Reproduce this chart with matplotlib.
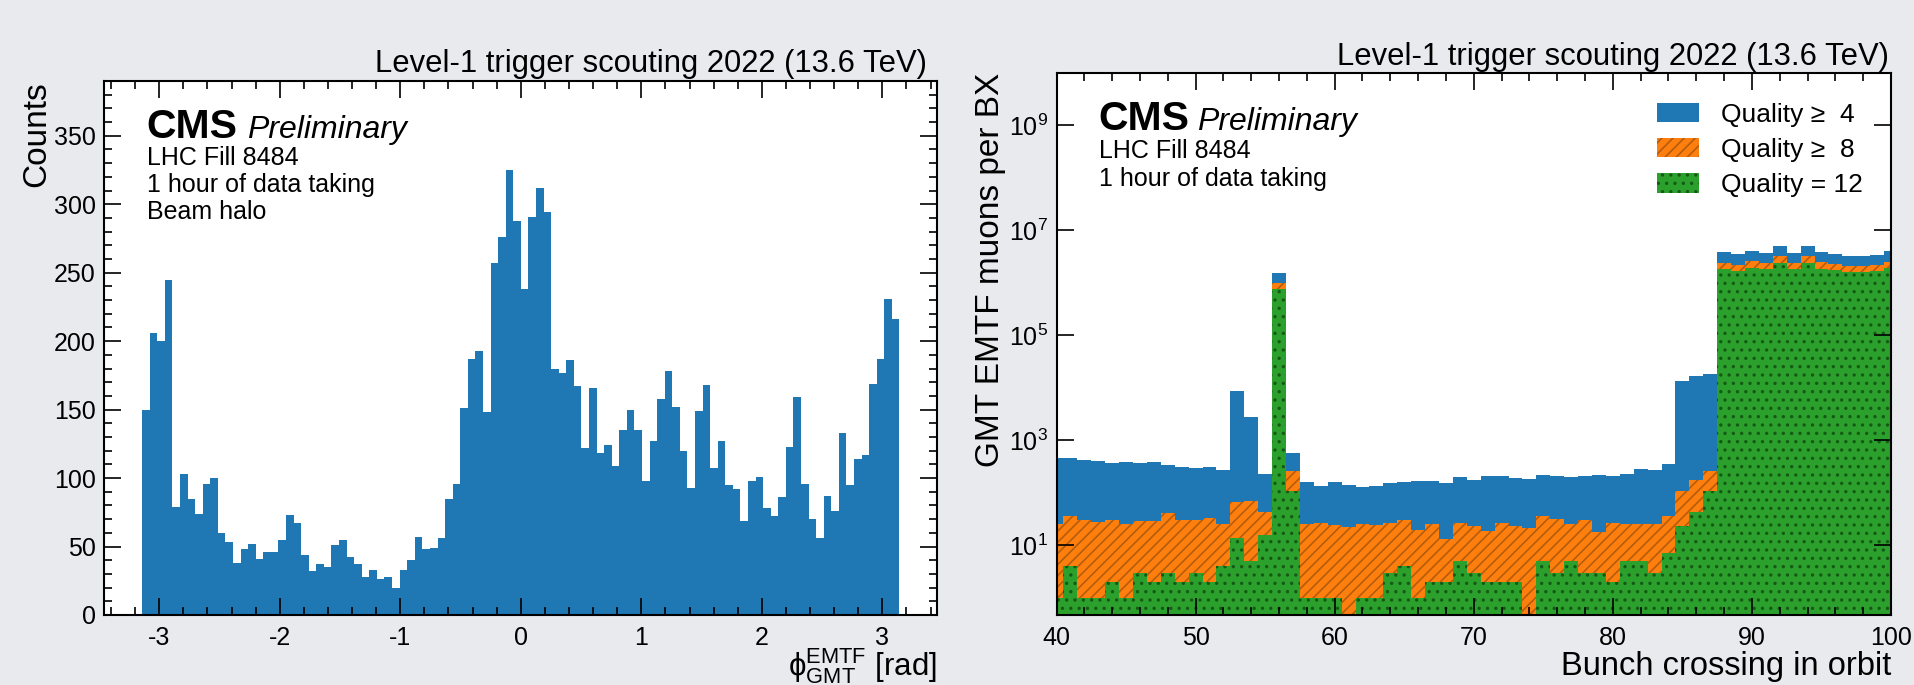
import numpy as np
import matplotlib
matplotlib.use("Agg")
import matplotlib.pyplot as plt
from matplotlib.patches import Patch
from matplotlib.ticker import MultipleLocator, NullLocator

plt.rcParams['font.family'] = ['Liberation Sans', 'DejaVu Sans']
plt.rcParams['mathtext.fontset'] = 'custom'
plt.rcParams['mathtext.rm'] = 'Liberation Sans'
plt.rcParams['mathtext.it'] = 'Liberation Sans:italic'
plt.rcParams['mathtext.bf'] = 'Liberation Sans:bold'
plt.rcParams['mathtext.fallback'] = 'stixsans'
plt.rcParams['axes.unicode_minus'] = False
plt.rcParams['hatch.linewidth'] = 1.2
plt.rcParams['axes.linewidth'] = 1.5

# left panel: beam halo phi distribution, 100 bins in [-pi, pi]
phi_counts = [150, 206, 200, 245, 79, 103, 85, 74, 96, 100,
              60, 53, 38, 48, 52, 41, 46, 46, 55, 73,
              67, 44, 32, 37, 35, 51, 55, 42, 37, 28,
              33, 26, 28, 20, 33, 40, 57, 48, 49, 56,
              85, 96, 151, 187, 193, 148, 257, 276, 325, 288,
              238, 291, 312, 294, 180, 177, 186, 167, 122, 166,
              118, 124, 109, 135, 150, 135, 98, 127, 158, 178,
              152, 120, 93, 149, 168, 107, 127, 95, 92, 69,
              98, 101, 78, 72, 86, 123, 159, 96, 70, 56,
              87, 76, 133, 95, 114, 117, 169, 187, 231, 216]

# right panel: muons per bunch crossing 40..100
bx = list(range(40, 101))
q4 = [468, 454, 429, 398, 370, 381, 370, 386, 344, 315,
      302, 315, 268, 8690, 2740, 228, 1.56e6, 574, 163, 135,
      163, 139, 131, 135, 154, 161, 166, 171, 154, 197,
      178, 209, 206, 194, 183, 219, 209, 200, 206, 215,
      207, 232, 280, 272, 359, 13700, 17000, 18100, 3.81e6, 3.49e6,
      4.10e6, 3.65e6, 4.96e6, 3.70e6, 5.11e6, 3.87e6, 3.54e6, 3.29e6, 3.29e6, 3.34e6,
      3.98e6]
q8 = [26, 36, 31, 28, 31, 26, 29, 29, 41, 30,
      31, 33, 26, 67, 69, 43, 1.01e6, 264, 26, 27,
      24, 22, 26, 24, 27, 31, 20, 26, 13, 27,
      23, 19, 27, 23, 21, 36, 32, 25, 31, 18,
      27, 26, 26, 26, 36, 107, 176, 261, 2.42e6, 2.22e6,
      2.64e6, 2.39e6, 3.20e6, 2.39e6, 3.24e6, 2.49e6, 2.25e6, 2.09e6, 2.09e6, 2.15e6,
      2.53e6]
q12 = [1, 4, 1, 1, 2, 1, 3, 2, 3, 2,
       3, 2, 4, 14, 5, 16, 7.5e5, 107, 1, 1,
       1, 0, 1, 1, 3, 4, 1, 2, 2, 5,
       3, 2, 2, 2, 0, 5, 3, 5, 3, 3,
       2, 5, 5, 3, 7, 23, 43, 108, 1.81e6, 1.66e6,
       1.95e6, 1.81e6, 2.35e6, 1.81e6, 2.42e6, 1.86e6, 1.73e6, 1.61e6, 1.61e6, 1.66e6,
       1.92e6]

title = "Level-1 trigger scouting 2022 (13.6 TeV)"
blue = '#1f77b4'
orange = '#ff7f0e'
green = '#2ca02c'

fig = plt.figure(figsize=(19.14, 6.85), dpi=100, facecolor='#e9eaee')
ax1 = fig.add_axes([104.3 / 1914, 70 / 685, 833 / 1914, 534 / 685])
ax2 = fig.add_axes([1056.5 / 1914, 70 / 685, 834.5 / 1914, 542 / 685])

# ---- left
phi_edges = np.linspace(-np.pi, np.pi, len(phi_counts) + 1)
ax1.stairs(phi_counts, phi_edges, fill=True, facecolor=blue, linewidth=0)
ax1.set_xlim(-1.1 * np.pi, 1.1 * np.pi)
ax1.set_ylim(0, 390)
ax1.xaxis.set_major_locator(MultipleLocator(1))
ax1.xaxis.set_minor_locator(MultipleLocator(0.2))
ax1.yaxis.set_major_locator(MultipleLocator(50))
ax1.yaxis.set_minor_locator(MultipleLocator(10))
ax1.set_xlabel("$\\mathrm{\u03d5}_{\\mathrm{GMT}}^{\\mathrm{EMTF}}$ [rad]",
               fontsize=22.5, loc='right', va='baseline')
ax1.xaxis.set_label_coords(1.0, -0.113)
ax1.set_ylabel("Counts", fontsize=24, loc='top')
ax1.yaxis.set_label_coords(-0.062, 1.0)
ax1.set_title(title, loc='right', fontsize=22.3, pad=6.5, x=0.987)

# ---- right
bx_edges = np.arange(bx[0] - 0.5, bx[-1] + 1.0, 1.0)
ax2.stairs(q4, bx_edges, fill=True, facecolor=blue, linewidth=0, baseline=0.01)
ax2.stairs(q8, bx_edges, fill=True, facecolor=orange, edgecolor='#b35c0c',
           hatch='///', linewidth=0, baseline=0.01)
ax2.stairs(q12, bx_edges, fill=True, facecolor=green, edgecolor='#145a14',
           hatch='..', linewidth=0, baseline=0.01)
ax2.set_yscale('log')
ax2.set_xlim(40, 100)
ax2.set_ylim(0.47, 1e10)
ax2.xaxis.set_major_locator(MultipleLocator(10))
ax2.xaxis.set_minor_locator(MultipleLocator(2))
ax2.set_yticks([1e1, 1e3, 1e5, 1e7, 1e9])
ax2.yaxis.set_minor_locator(NullLocator())
ax2.set_xlabel("Bunch crossing in orbit", fontsize=23.5, loc='right', va='baseline')
ax2.xaxis.set_label_coords(1.0, -0.1107)
ax2.set_ylabel("GMT EMTF muons per BX", fontsize=24, loc='top')
ax2.yaxis.set_label_coords(-0.060, 1.0)
ax2.set_title(title, loc='right', fontsize=22.3, pad=6, x=0.998)

handles = [Patch(facecolor=blue, linewidth=0),
           Patch(facecolor=orange, edgecolor='#b35c0c', hatch='///', linewidth=0),
           Patch(facecolor=green, edgecolor='#145a14', hatch='..', linewidth=0)]
labels = ["Quality \u2265  4", "Quality \u2265  8", "Quality = 12"]
ax2.legend(handles, labels, loc='upper right', bbox_to_anchor=(0.966, 0.945),
           frameon=False, fontsize=19, handlelength=1.6, handleheight=0.76,
           labelspacing=0.42, handletextpad=0.83, borderaxespad=0, borderpad=0)

for ax in (ax1, ax2):
    ax.set_facecolor('white')
    ax.tick_params(which='both', direction='in', top=True, right=True,
                   labelsize=18, width=1.2)
    ax.tick_params(which='major', length=12)
    ax.tick_params(which='minor', length=6)
    ax.tick_params(axis='x', pad=8)
    ax.tick_params(axis='y', pad=6)

# CMS labels
ax1.text(0.051, 0.894, "CMS", fontsize=29.5, fontweight='bold', transform=ax1.transAxes)
ax1.text(0.171, 0.894, "Preliminary", fontsize=23, style='italic', transform=ax1.transAxes)
ax1.text(0.051, 0.843, "LHC Fill 8484", fontsize=18, transform=ax1.transAxes)
ax1.text(0.051, 0.792, "1 hour of data taking", fontsize=18, transform=ax1.transAxes)
ax1.text(0.051, 0.742, "Beam halo", fontsize=18, transform=ax1.transAxes)

ax2.text(0.0506, 0.8945, "CMS", fontsize=29.5, fontweight='bold', transform=ax2.transAxes)
ax2.text(0.1687, 0.8945, "Preliminary", fontsize=23, style='italic', transform=ax2.transAxes)
ax2.text(0.0506, 0.843, "LHC Fill 8484", fontsize=18, transform=ax2.transAxes)
ax2.text(0.0506, 0.792, "1 hour of data taking", fontsize=18, transform=ax2.transAxes)

fig.savefig("out.png", dpi=100, facecolor=fig.get_facecolor())
